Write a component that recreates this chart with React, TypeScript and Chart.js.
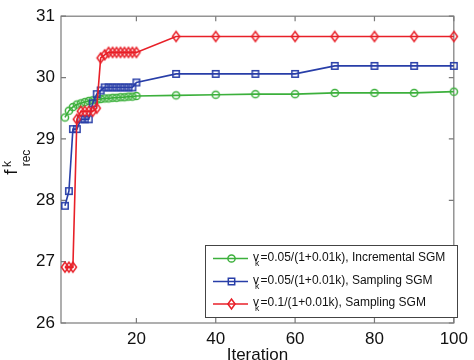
import React, { useEffect, useRef } from "react";
import { Chart, registerables } from "chart.js";

Chart.register(...registerables);

// Iteration numbers (x)
const iterations = [2, 3, 4, 5, 6, 7, 8, 9, 10, 11, 12, 13, 14, 15, 16, 17, 18, 19, 20, 30, 40, 50, 60, 70, 80, 90, 100];

// f_rec^k values per series
const incrementalSGM005 = [
  29.35, 29.46, 29.52, 29.56, 29.58, 29.6, 29.62, 29.63, 29.64, 29.65, 29.66, 29.66, 29.67, 29.67, 29.68, 29.68, 29.69, 29.69, 29.7,
  29.71, 29.72, 29.73, 29.73, 29.75, 29.75, 29.75, 29.77,
];
const samplingSGM005 = [
  27.91, 28.15, 29.16, 29.16, 29.32, 29.32, 29.32, 29.58, 29.73, 29.79, 29.84, 29.84, 29.84, 29.84, 29.84, 29.84, 29.84, 29.84, 29.92,
  30.06, 30.06, 30.06, 30.06, 30.19, 30.19, 30.19, 30.19,
];
const samplingSGM01 = [
  26.91, 26.91, 26.91, 29.32, 29.45, 29.45, 29.45, 29.45, 29.5, 30.32, 30.37, 30.41, 30.41, 30.41, 30.41, 30.41, 30.41, 30.41, 30.41,
  30.67, 30.67, 30.67, 30.67, 30.67, 30.67, 30.67, 30.67,
];

const xTicks = [20, 40, 60, 80, 100];
const yTicks = [26, 27, 28, 29, 30, 31];

const legendRest = [
  "=0.05/(1+0.01k), Incremental SGM",
  "=0.05/(1+0.01k), Sampling SGM",
  "=0.1/(1+0.01k), Sampling SGM",
];

const GREEN = "rgb(60,176,60)";
const BLUE = "rgb(40,62,168)";
const RED = "rgb(232,32,40)";
const FONT = "Liberation Sans, Arial, sans-serif";
const colors = [GREEN, BLUE, RED];
const shapes = ["circle", "square", "diamond"];

function traceMarker(ctx: CanvasRenderingContext2D, shape: string, x: number, y: number) {
  ctx.beginPath();
  if (shape === "circle") {
    ctx.arc(x, y, 3.6, 0, Math.PI * 2);
  } else if (shape === "square") {
    ctx.rect(x - 3.2, y - 3.2, 6.4, 6.4);
  } else {
    ctx.moveTo(x - 3.6, y);
    ctx.lineTo(x, y + 5);
    ctx.lineTo(x + 3.6, y);
    ctx.lineTo(x, y - 5);
    ctx.closePath();
  }
}

function makeMarker(shape: string, color: string): HTMLCanvasElement {
  const c = document.createElement("canvas");
  c.width = 14;
  c.height = 14;
  const ctx = c.getContext("2d")!;
  ctx.strokeStyle = color;
  ctx.lineWidth = 1.5;
  traceMarker(ctx, shape, 7, 7);
  ctx.stroke();
  return c;
}

const framePlugin = {
  id: "frame",
  beforeDatasetsDraw(chart: any) {
    const { ctx, chartArea } = chart;
    const { left, right, top, bottom } = chartArea;
    const xs = chart.scales.x;
    const ys = chart.scales.y;
    ctx.save();
    ctx.strokeStyle = "#7a7a7a";
    ctx.lineWidth = 1.2;
    ctx.strokeRect(left, top, right - left, bottom - top);
    ctx.beginPath();
    for (const v of xTicks) {
      const px = xs.getPixelForValue(v);
      ctx.moveTo(px, bottom);
      ctx.lineTo(px, bottom - 5);
      ctx.moveTo(px, top);
      ctx.lineTo(px, top + 5);
    }
    for (const v of yTicks) {
      const py = ys.getPixelForValue(v);
      ctx.moveTo(left, py);
      ctx.lineTo(left + 5, py);
      ctx.moveTo(right, py);
      ctx.lineTo(right - 5, py);
    }
    ctx.stroke();
    ctx.restore();
  },
  afterDraw(chart: any) {
    const { ctx, chartArea } = chart;
    ctx.save();
    // x title
    ctx.fillStyle = "#111";
    ctx.font = `17px ${FONT}`;
    ctx.textAlign = "center";
    ctx.textBaseline = "top";
    ctx.fillText("Iteration", (chartArea.left + chartArea.right) / 2, 347);

    // y title f_rec^k (rotated)
    ctx.save();
    ctx.rotate(-Math.PI / 2);
    ctx.textAlign = "center";
    ctx.textBaseline = "middle";
    ctx.font = `19px ${FONT}`;
    ctx.fillText("f", -172, 12);
    ctx.font = `12px ${FONT}`;
    ctx.fillText("k", -164, 8);
    ctx.fillText("rec", -158, 27);
    ctx.restore();

    // legend
    const bx = 205.5, by = 245.5, bw = 252, bh = 72;
    ctx.fillStyle = "#fff";
    ctx.fillRect(bx, by, bw, bh);
    ctx.strokeStyle = "#444";
    ctx.lineWidth = 1;
    ctx.strokeRect(bx, by, bw, bh);
    const rowsY = [258.5, 281.5, 304];
    for (let i = 0; i < 3; i++) {
      const y = rowsY[i];
      ctx.strokeStyle = colors[i];
      ctx.lineWidth = 1.6;
      ctx.beginPath();
      ctx.moveTo(213, y);
      ctx.lineTo(248, y);
      ctx.stroke();
      ctx.lineWidth = 1.5;
      traceMarker(ctx, shapes[i], 231.5, y);
      ctx.stroke();
      ctx.fillStyle = "#111";
      ctx.textAlign = "left";
      ctx.textBaseline = "middle";
      ctx.font = `12px ${FONT}`;
      ctx.fillText("v", 253, y - 1);
      ctx.font = `8.5px ${FONT}`;
      ctx.fillText("k", 255, y + 5);
      ctx.font = `12px ${FONT}`;
      ctx.fillText(legendRest[i], 260.5, y - 1);
    }
    ctx.restore();
  },
};

export default function App() {
  const ref = useRef<HTMLCanvasElement | null>(null);
  useEffect(() => {
    if (!ref.current) return;
    const series = [incrementalSGM005, samplingSGM005, samplingSGM01];
    const chart = new Chart(ref.current, {
      type: "line",
      data: {
        datasets: series.map((vals, i) => ({
          label: legendRest[i],
          data: iterations.map((x, j) => ({ x, y: vals[j] })),
          borderColor: colors[i],
          backgroundColor: "transparent",
          borderWidth: 1.6,
          pointStyle: makeMarker(shapes[i], colors[i]) as any,
          pointRadius: 5,
          tension: 0,
          clip: false as any,
          order: 3 - i,
        })),
      },
      options: {
        responsive: false,
        animation: false,
        devicePixelRatio: 1,
        layout: { padding: { left: 0, right: 13, top: 7, bottom: 0 } },
        plugins: { legend: { display: false }, tooltip: { enabled: false } },
        scales: {
          x: {
            type: "linear",
            min: 1,
            max: 100,
            afterBuildTicks: (scale: any) => {
              scale.ticks = xTicks.map((v) => ({ value: v }));
            },
            afterFit: (scale: any) => {
              scale.height = 37;
            },
            grid: { display: false, drawTicks: false },
            border: { display: false },
            ticks: {
              padding: 6,
              color: "#111",
              font: { family: FONT, size: 17 },
              maxRotation: 0,
              autoSkip: false,
            },
          },
          y: {
            type: "linear",
            min: 26,
            max: 31,
            afterBuildTicks: (scale: any) => {
              scale.ticks = yTicks.map((v) => ({ value: v }));
            },
            afterFit: (scale: any) => {
              scale.width = 61;
            },
            grid: { display: false, drawTicks: false },
            border: { display: false },
            ticks: {
              padding: 6,
              color: "#111",
              font: { family: FONT, size: 17 },
            },
          },
        },
      },
      plugins: [framePlugin],
    });
    return () => chart.destroy();
  }, []);
  return (
    <div style={{ position: "fixed", left: 0, top: 0, width: 474, height: 360, background: "#fff" }}>
      <canvas ref={ref} width={474} height={360} style={{ width: 474, height: 360 }} />
    </div>
  );
}
